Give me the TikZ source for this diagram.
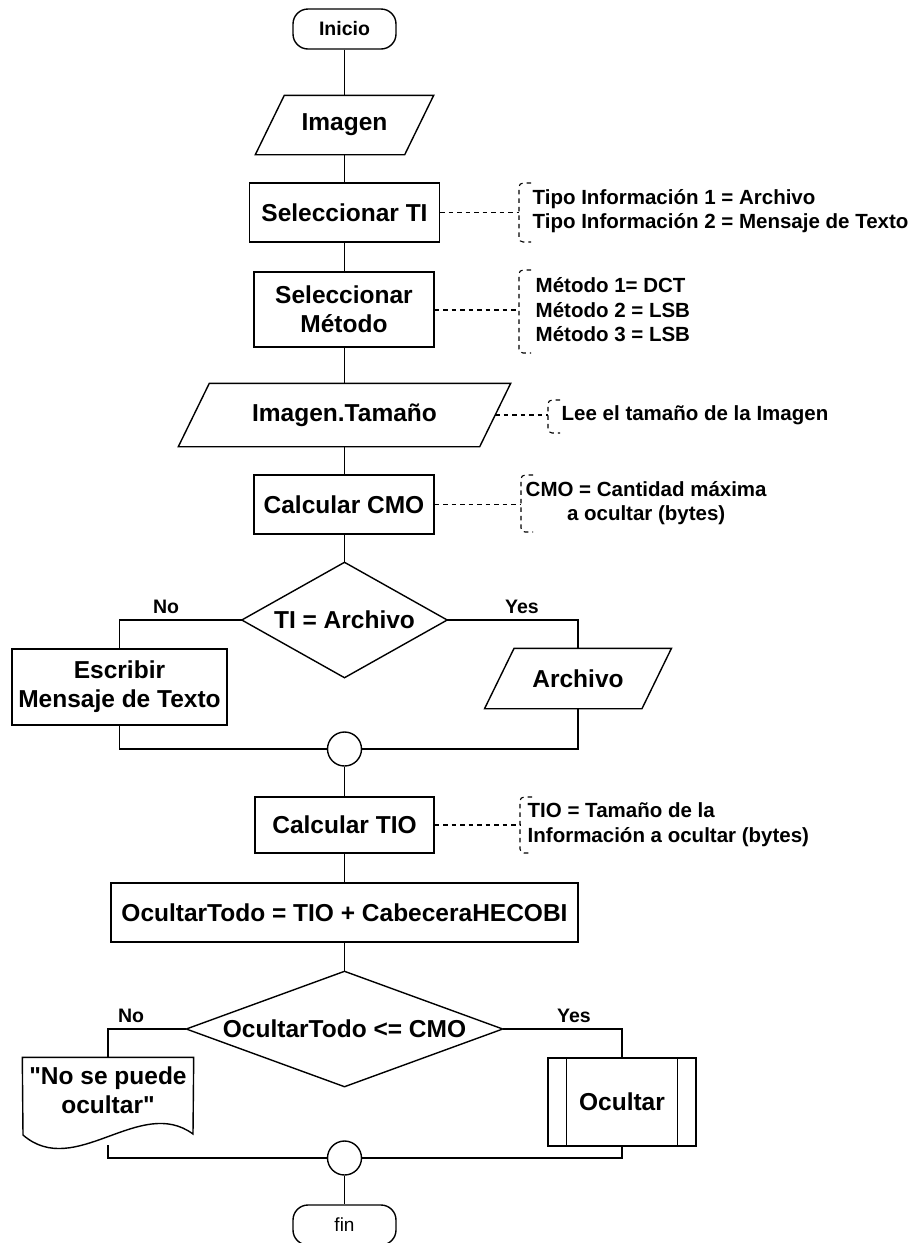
\documentclass[tikz,border=0pt]{standalone}
\usepackage{fontspec}
\setmainfont{Liberation Sans}
% family without TeX ligature mapping, so " stays a straight quote
\newfontfamily\lsans{Liberation Sans}

% dashed annotation bracket: x, top, bottom
\newcommand\annbrace[3]{\draw[note, rounded corners=4pt] (#1+12,#2) -- (#1,#2) -- (#1,#3) -- (#1+12,#3);}

\begin{document}
\begin{tikzpicture}[x=1pt,y=-1pt,
  line width=1.4pt,
  lbl/.style={font=\lsans\bfseries\fontsize{24.5}{29}\selectfont, align=center, inner sep=0pt},
  proc/.style={lbl, draw, rectangle},
  term/.style={draw, rectangle, rounded corners=15pt, inner sep=0pt,
               minimum width=103pt, minimum height=40pt},
  io/.style={lbl, rectangle},
  dec/.style={lbl, rectangle},
  joint/.style={draw, circle, minimum size=34pt, inner sep=0pt},
  ann/.style={font=\lsans\bfseries\fontsize{20.5}{24.5}\selectfont, inner sep=0pt, anchor=west},
  branch/.style={font=\lsans\bfseries\fontsize{19.5}{23}\selectfont, inner sep=0pt},
  note/.style={line width=1.1pt, dash pattern=on 4.5pt off 4pt},
]
\useasboundingbox (0,0) rectangle (917,1243);
\clip (0,0) rectangle (917,1243);

% main column
\node[term, font=\lsans\bfseries\fontsize{19.5}{23}\selectfont] (ini) at (344.5,29) {Inicio};
\node[io, minimum width=148pt, minimum height=58pt] (img) at (344.5,125) {Imagen};
\node[proc, minimum width=190pt, minimum height=59pt] (selTI) at (344.5,212.5) {Seleccionar TI};
\node[proc, minimum width=180pt, minimum height=75pt] (selM) at (344,309.5) {Seleccionar\\Método};
\node[io, minimum width=300pt, minimum height=62pt] (tam) at (344.5,415) {Imagen.Tamaño};
\node[proc, minimum width=180pt, minimum height=59pt] (cmo) at (344,504.5) {Calcular CMO};
\node[dec, minimum width=204pt, minimum height=114pt] (d1) at (344.5,620) {TI = Archivo};
\node[proc, minimum width=215pt, minimum height=76pt] (esc) at (119.5,687) {Escribir\\Mensaje de Texto};
\node[io, minimum width=156pt, minimum height=59pt] (arc) at (578,678.5) {Archivo};
\node[joint] (j1) at (344.5,749) {};
\node[proc, minimum width=179pt, minimum height=56pt] (tio) at (344.5,825) {Calcular TIO};
\node[proc, minimum width=467pt, minimum height=59pt] (tot) at (344.5,912.5) {OcultarTodo = TIO + CabeceraHECOBI};
\node[dec, minimum width=315pt, minimum height=114pt] (d2) at (344.5,1029) {OcultarTodo <= CMO};
\node[lbl, minimum width=170pt, minimum height=64pt] (doc) at (108,1090) {"No se puede\\ocultar"};
\coordinate (docb) at (108,1145);
\node[proc, minimum width=148pt, minimum height=88pt] (ocu) at (622,1102) {Ocultar};
\node[joint] (j2) at (344.5,1158) {};
\node[term, font=\lsans\fontsize{19}{23}\selectfont] (fin) at (344.5,1225) {fin};

% decision diamonds
\foreach \n in {d1, d2}
  \draw (\n.north) -- (\n.east) -- (\n.south) -- (\n.west) -- cycle;

% input/output parallelograms
\foreach \n/\s in {img/14.5, tam/15.5, arc/14.75}
  \draw ([xshift=-\s pt]\n.south west) -- ([xshift=\s pt]\n.north west)
     -- ([xshift=\s pt]\n.north east) -- ([xshift=-\s pt]\n.south east) -- cycle;

% document symbol with wavy base
\draw (doc.north west) -- (doc.north east) -- (193,1134)
  .. controls (140,1095) and (75,1180) .. (23,1135) -- cycle;

% predefined process side bars
\draw ([xshift=19pt]ocu.north west) -- ([xshift=19pt]ocu.south west);
\draw ([xshift=-19pt]ocu.north east) -- ([xshift=-19pt]ocu.south east);

% flow lines
\draw (ini.south) -- (img.north);
\draw (img.south) -- (selTI.north);
\draw (selTI.south) -- (selTI.south |- selM.north);
\draw (selM.south -| tam.north) -- (tam.north);
\draw (tam.south) -- (tam.south |- cmo.north);
\draw (cmo.south -| d1.north) -- (d1.north);
\draw (d1.west) -| (esc.north);
\draw (d1.east) -| (arc.north);
\draw (esc.south) |- (j1.west);
\draw (arc.south) |- (j1.east);
\draw (j1.south) -- (tio.north);
\draw (tio.south) -- (tot.north);
\draw (tot.south) -- (d2.north);
\draw (d2.west) -| (doc.north);
\draw (d2.east) -| (ocu.north);
\draw (docb) |- (j2.west);
\draw (ocu.south) |- (j2.east);
\draw (j2.south) -- (fin.north);

% branch labels
\node[branch] (no1) at (166,607) {No};
\node[branch] (yes1) at (522,607) {Yes};
\node[branch] (no2) at (131,1016) {No};
\node[branch] (yes2) at (574,1016) {Yes};

% annotations
\coordinate (bk1) at (519,212.5);
\draw[note] (selTI.east) -- (bk1);
\annbrace{519}{183}{242}
\node[ann, align=left] (t1) at (532,211) {Tipo Información 1 = Archivo\\Tipo Información 2 = Mensaje de Texto};

\coordinate (bk2) at (519,310);
\draw[note] (selM.east |- bk2) -- (bk2);
\annbrace{519}{270}{353}
\node[ann, align=left] (t2) at (535,310) {Método 1= DCT\\Método 2 = LSB\\Método 3 = LSB};

\coordinate (bk3) at (548,415);
\draw[note] (tam.east) -- (bk3);
\annbrace{548}{400}{433}
\node[ann] (t3) at (561,415) {Lee el tamaño de la Imagen};

\coordinate (bk4) at (521,504.5);
\draw[note] (cmo.east) -- (bk4);
\annbrace{521}{475}{532}
\node[ann, align=center] (t4) at (525,503) {CMO = Cantidad máxima\\a ocultar (bytes)};

\coordinate (bk5) at (520,825);
\draw[note] (tio.east) -- (bk5);
\annbrace{520}{797}{853}
\node[ann, align=left] (t5) at (527,824.5) {TIO = Tamaño de la\\Información a ocultar (bytes)};
\end{tikzpicture}
\end{document}
